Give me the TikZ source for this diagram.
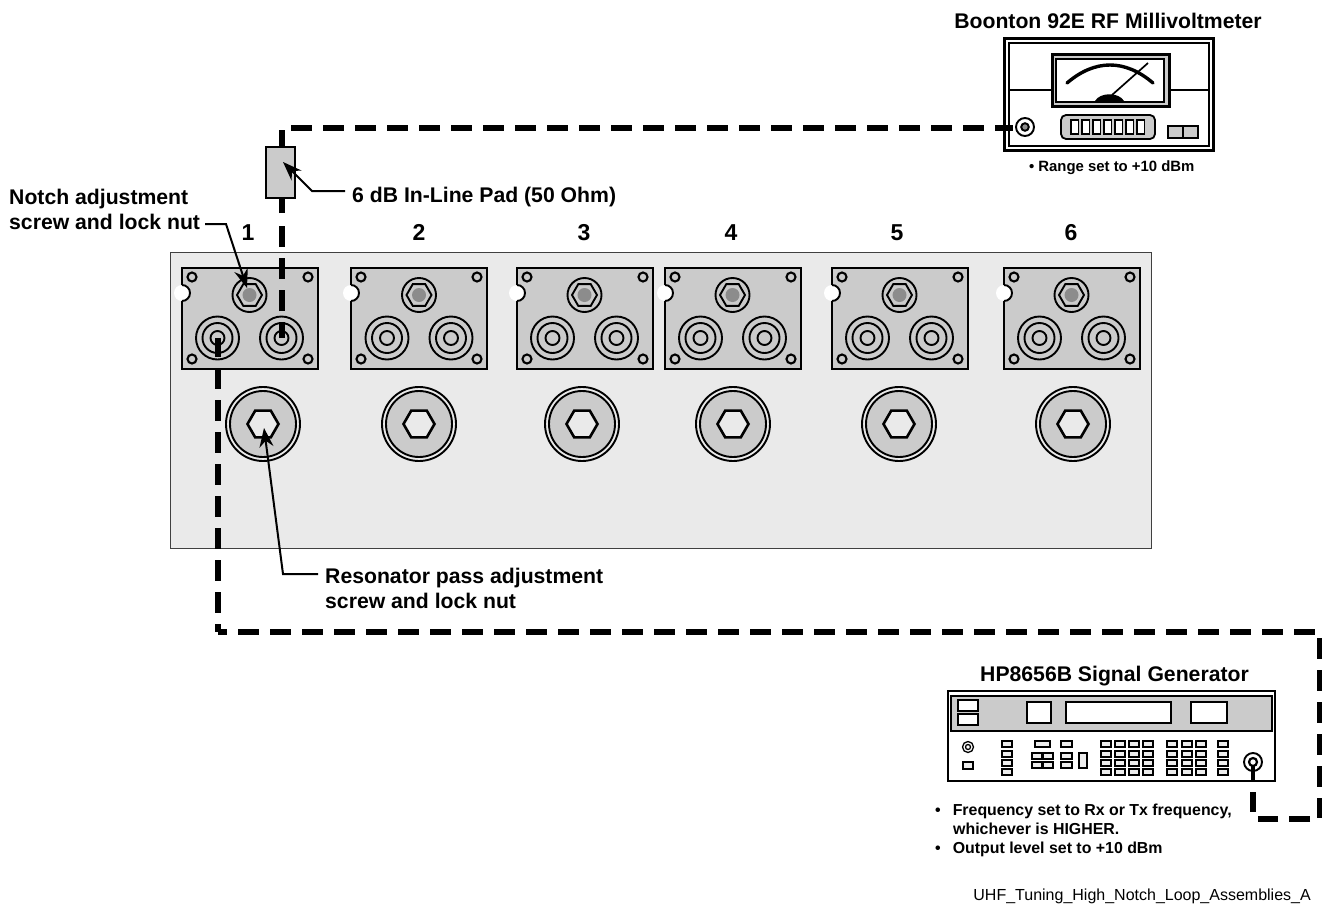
\documentclass[tikz,border=0pt]{standalone}
\usepackage{fontspec}
\setmainfont{Liberation Sans}
\usetikzlibrary{arrows.meta}
\definecolor{panelgray}{HTML}{EAEAEA}
\definecolor{plategray}{HTML}{CBCBCB}
\definecolor{nutgray}{HTML}{8C8C8C}
\tikzset{
  ln/.style={draw=black,line width=1.9pt},
  thick ln/.style={draw=black,line width=2.6pt},
  coax/.style={draw=black,line width=5.2pt,dash pattern=on 21pt off 11pt},
  stub/.style={draw=black,line width=5.2pt},
  leader/.style={draw=black,line width=2pt,-{Stealth[length=19pt,width=14pt]}},
  lbl/.style={inner sep=0pt,font=\fontsize{21.2}{25}\selectfont\bfseries,align=left},
  numlbl/.style={inner sep=0pt,anchor=base,font=\fontsize{23}{26}\selectfont\bfseries},
  note/.style={inner sep=0pt,font=\fontsize{15.9}{19}\selectfont\bfseries,align=left},
  btn/.style={draw=black,line width=1.3pt,fill=black!7},
}
% one notch / pass plate: left edge, centre x
\newcommand{\plate}[2]{%
  \fill[plategray] (#1,268) rectangle ++(136,101);
  \draw[thick ln] (#1,268) rectangle ++(136,101);
  \fill[white] (#1,293) circle (8);
  \draw[ln] (#1,285) arc[start angle=-90,end angle=90,radius=8];
  \foreach \dx/\dy in {10/9,126/9,10/91,126/91}{
    \draw[ln,line width=2.1pt] (#1+\dx,268+\dy) circle (4.5);}
  \foreach \sx in {-32,32}{
    \draw[ln] (#2+\sx,338) circle (21.5) (#2+\sx,338) circle (15);
    \draw[ln] (#2+\sx,338) circle (7);}
  \begin{scope}[shift={(#2,295)}]
    \draw[ln] (0,0) circle (17);
    \draw[ln] (0:12.5) -- (60:12.5) -- (120:12.5) -- (180:12.5) -- (240:12.5) -- (300:12.5) -- cycle;
    \fill[nutgray] (0,0) circle (7);
  \end{scope}
}
\newcommand{\resonator}[1]{%
  \begin{scope}[shift={(#1,424)}]
    \draw[ln,fill=panelgray] (0,0) circle (37);
    \draw[ln,fill=plategray] (0,0) circle (33);
    \draw[thick ln,fill=panelgray] (0:15.5) -- (60:15.5) -- (120:15.5) -- (180:15.5) -- (240:15.5) -- (300:15.5) -- cycle;
  \end{scope}
}
\begin{document}
\begin{tikzpicture}[x=1pt,y=-1pt]
\useasboundingbox (0,0) rectangle (1322,905);
\fill[white] (0,0) rectangle (1322,905);

% main panel
\node[draw=black!75,line width=1.4pt,fill=panelgray,minimum width=981pt,minimum height=296pt,inner sep=0pt,anchor=north west] (panel) at (170,252) {};

\plate{182}{249.5}
\plate{351}{419}
\plate{517}{584.5}
\plate{665}{732.5}
\plate{832}{899.5}
\plate{1004}{1071.5}
\resonator{263}
\resonator{419}
\resonator{582}
\resonator{733}
\resonator{899}
\resonator{1073}

\node[numlbl] (n1) at (248,240) {1};
\node[numlbl] (n2) at (419,240) {2};
\node[numlbl] (n3) at (584,240) {3};
\node[numlbl] (n4) at (731,240) {4};
\node[numlbl] (n5) at (897,240) {5};
\node[numlbl] (n6) at (1071,240) {6};

% named points
\coordinate (jackout) at (282,338);
\coordinate (jackin) at (218,338);
\coordinate (bcorner) at (218,632);
\coordinate (redge) at (1322,632);
\coordinate (rtop) at (1320,638);
\coordinate (rlow) at (1320,818);
\coordinate (glow) at (1258,819);
\coordinate (gout) at (1253,762);
\coordinate (mtr) at (1025,127);

% coax runs
\draw[coax,dash phase=5pt] (jackout) -- (282,226);
\draw[stub] (282,213) -- (282,198);
\draw[stub] (282,147) -- (282,130);
\draw[coax,dash phase=2pt] (jackin) -- (bcorner);
\draw[coax,dash phase=12pt] (bcorner) -- (1316,632);
\draw[coax] (rtop) -- (rlow);
\draw[coax] (1310,819) -- (glow);
\draw[stub] (1253,792) -- (1253,812);
\draw[stub] (gout) -- (1253,781);

% pad
\node[draw=black,line width=1.8pt,fill=plategray,minimum width=29pt,minimum height=51pt,inner sep=0pt] (pad) at (280.5,172.5) {};

% meter
\node[draw=black,line width=2.6pt,fill=white,minimum width=209pt,minimum height=112pt,inner sep=0pt,anchor=north west] (meter) at (1003,37) {};
\node[draw=black,line width=1.8pt,minimum width=200pt,minimum height=103pt,inner sep=0pt,anchor=north west] (meterin) at (1008,42) {};
\draw[thick ln] (1008,90) -- (1051,90) (1169,90) -- (1209,90);
\node[draw=black,line width=2.6pt,fill=plategray,minimum width=117pt,minimum height=52pt,inner sep=0pt,anchor=north west] (win) at (1051,53) {};
\node[draw=black,line width=1.6pt,fill=white,minimum width=108pt,minimum height=43pt,inner sep=0pt,anchor=north west] (wininner) at (1055,58) {};
\draw[draw=black,line width=3.4pt,line cap=round] (1067,83) .. controls (1095,59) and (1125,59) .. (1153,83);
\draw[draw=black,line width=1.7pt] (1112,95) -- (1148,63);
\fill[black] (1095,101) .. controls (1100,92) and (1119,92) .. (1124,101) -- cycle;
\draw[coax] (291,128) -- (1013,128);
\draw[ln,fill=white] (mtr) circle (9);
\draw[ln,fill=nutgray] (mtr) circle (3.8);
\node[draw=black,line width=1.8pt,fill=plategray,rounded corners=5pt,minimum width=94pt,minimum height=24pt,inner sep=0pt] (disp) at (1108,127) {};
\foreach \i in {0,...,6}{
  \draw[btn,fill=white] (1071+\i*11,120) rectangle ++(7.5,14);}
\draw[draw=black,line width=2pt,fill=plategray] (1168,126) rectangle (1198,138);
\draw[draw=black,line width=1.6pt] (1183,126) -- (1183,138);

% generator
\node[draw=black,line width=2.4pt,fill=white,minimum width=327pt,minimum height=90pt,inner sep=0pt,anchor=north west] (gen) at (947,690) {};
\node[draw=black,line width=1.8pt,fill=plategray,minimum width=321pt,minimum height=35pt,inner sep=0pt,anchor=north west] (band) at (950,695) {};
\draw[btn,fill=white] (958,700) rectangle (978,711);
\draw[btn,fill=white] (958,714) rectangle (978,725);
\draw[btn,fill=white] (1027,702) rectangle (1051,723);
\draw[btn,fill=white] (1066,702) rectangle (1171,723);
\draw[btn,fill=white] (1191,702) rectangle (1227,723);
\draw[ln,line width=1.3pt] (968,747) circle (5.5) (968,747) circle (2.5);
\draw[btn] (963,762) rectangle (973,769);
\foreach \x in {1002,1101,1115,1129,1143,1167,1182,1196,1218}{
  \foreach \y in {741,751,760,769}{
    \draw[btn] (\x,\y) rectangle ++(10,6);}}
\draw[btn] (1035,741) rectangle ++(15,6);
\foreach \x in {1032,1043}{
  \foreach \y in {753,762}{
    \draw[btn] (\x,\y) rectangle ++(10,6);}}
\foreach \y in {741,753,762}{
  \draw[btn] (1061,\y) rectangle ++(11,6);}
\draw[btn] (1079,753) rectangle (1087,768);
\draw[ln,fill=white] (gout) circle (9);
\draw[ln,line width=2.2pt] (gout) circle (4);
\draw[stub,line width=3.4pt] (1253,766) -- (1253,781);

% labels
\node[lbl,anchor=south] (t1) at (1108,29) {Boonton 92E RF Millivoltmeter};
\node[note,anchor=west,font=\fontsize{14.9}{19}\selectfont\bfseries] (r1) at (1029,168) {•\hspace{4pt}Range set to +10 dBm};
\node[lbl,anchor=west] (padl) at (352,197) {6 dB In-Line Pad (50 Ohm)};
\node[lbl,anchor=north west] (notchl) at (9,189) {Notch adjustment\\screw and lock nut};
\node[lbl,anchor=north west] (resl) at (325,568) {Resonator pass adjustment\\screw and lock nut};
\node[lbl,anchor=west] (t2) at (980,676) {HP8656B Signal Generator};
\node[note,anchor=north west] (g1) at (935,804) {•\hspace{12pt}Frequency set to Rx or Tx frequency,\\\hspace{18pt}whichever is HIGHER.\\•\hspace{12pt}Output level set to +10 dBm};
\node[inner sep=0pt,anchor=east,font=\fontsize{16}{18}\selectfont] (foot) at (1311,896) {UHF\_Tuning\_High\_Notch\_Loop\_Assemblies\_A};

% leaders
\coordinate (notchtip) at (247,288);
\coordinate (padtip) at (283,162);
\coordinate (restip) at (264,428);
\draw[leader] (205,224) -- (226,224) -- (notchtip);
\draw[leader] (345,191) -- (312,191) -- (padtip);
\draw[leader] (318,574) -- (283,574) -- (restip);
\end{tikzpicture}
\end{document}
